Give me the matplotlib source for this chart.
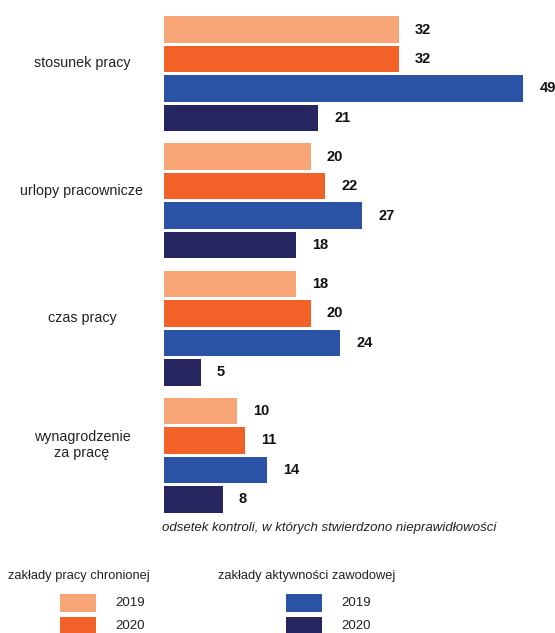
import matplotlib
matplotlib.use('Agg')
import matplotlib.pyplot as plt
import matplotlib.transforms as mtransforms
from matplotlib.patches import Rectangle
import numpy as np

plt.rcParams['font.family'] = ['Liberation Sans', 'DejaVu Sans']

# data
categories = ["stosunek pracy", "urlopy pracownicze", "czas pracy", "wynagrodzenie\nza pracę"]
series_names = ["ZPChr 2019", "ZPChr 2020", "ZAZ 2019", "ZAZ 2020"]
zpchr_2019 = [32, 20, 18, 10]
zpchr_2020 = [32, 22, 20, 11]
zaz_2019 = [49, 27, 24, 14]
zaz_2020 = [21, 18, 5, 8]
series = [zpchr_2019, zpchr_2020, zaz_2019, zaz_2020]
colors = ["#F7A476", "#F26128", "#2A52A5", "#262560"]
legend_years = ["2019", "2020"]

W, H = 555, 633
fig = plt.figure(figsize=(W / 100, H / 100), dpi=100)
fig.patch.set_facecolor('white')

# axes placed in pixel terms: bars start at x=164
ax = fig.add_axes([164 / W, 1 - 516 / H, (W - 164) / W, (516 - 14) / H])
ax.axis('off')

GROUP = 4.31
BAR_H = 0.9
for i, vals in enumerate(series):
    ys = np.arange(len(categories)) * GROUP + i
    ax.barh(ys, vals, height=BAR_H, color=colors[i], linewidth=0)
    for y, v in zip(ys, vals):
        ax.text(v + 2.2, y, str(v), va='center', ha='left',
                fontsize=10.5, fontweight='bold', color='#111111')

ax.set_xlim(0, (W - 164) / 7.33)
ax.set_ylim((516 - 29.5) / 29.5, (14 - 29.5) / 29.5)

# category labels, centred in the left margin
trans = mtransforms.blended_transform_factory(fig.transFigure, ax.transData)
for g, cat in enumerate(categories):
    ax.text(82 / W, g * GROUP + 1.15, cat, transform=trans, ha='center',
            va='center', fontsize=10.3, color='#222222', linespacing=1.2)

fig.text(162 / W, 1 - 528 / H,
         "odsetek kontroli, w których stwierdzono nieprawidłowości",
         ha='left', va='center', fontsize=9.5, style='italic', color='#222222')

# legend
groups = [("zakłady pracy chronionej", 8, 60, colors[:2]),
          ("zakłady aktywności zawodowej", 218, 286, colors[2:])]
for title, tx, px, cols in groups:
    fig.text(tx / W, 1 - 576 / H, title, ha='left', va='center',
             fontsize=9.3, color='#222222')
    for k, (yr, c) in enumerate(zip(legend_years, cols)):
        yc = 603 + k * 23
        fig.add_artist(Rectangle((px / W, 1 - (yc + 9) / H), 36 / W, 18 / H,
                                 transform=fig.transFigure, facecolor=c,
                                 edgecolor='none'))
        fig.text((px + 55) / W, 1 - yc / H, yr, ha='left', va='center',
                 fontsize=9.5, color='#222222')

fig.savefig('out.png', dpi=100, facecolor='white')
